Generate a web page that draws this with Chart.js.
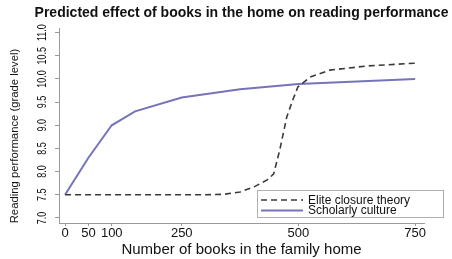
<!DOCTYPE html>
<html>
<head>
<meta charset="utf-8">
<script src="https://cdn.jsdelivr.net/npm/chart.js@4"></script>
<style>
  html, body { margin: 0; padding: 0; background: #fff; }
  #wrap { width: 452px; height: 259px; }
</style>
</head>
<body>
<div id="wrap"><canvas id="booksChart"></canvas></div>
<script>
const titleText = 'Predicted effect of books in the home on reading performance';
const xTitle = 'Number of books in the family home';
const yTitle = 'Reading performance (grade level)';

const xTicks = [0, 50, 100, 250, 500, 750];
const yTicks = [7.0, 7.5, 8.0, 8.5, 9.0, 9.5, 10.0, 10.5, 11.0];

const eliteBooks = [0, 100, 200, 300, 340, 375, 405, 433, 447, 460, 475, 488, 499, 525, 567, 647, 750];
const eliteScore = [7.5, 7.5, 7.5, 7.5, 7.51, 7.56, 7.67, 7.82, 7.95, 8.47, 9.18, 9.55, 9.83, 10.04, 10.19, 10.28, 10.34];

const scholarlyBooks = [0, 50, 100, 150, 250, 375, 500, 750];
const scholarlyScore = [7.5, 8.3, 9.0, 9.3, 9.6, 9.78, 9.89, 10.0];

const axisColor = '#9a9a9a';
const font = 'Liberation Sans, Arial, sans-serif';

function toPoints(xs, ys) {
  return xs.map((x, i) => ({ x: x, y: ys[i] }));
}

// title, y title, squeezed y tick labels and the boxed legend are drawn by hand
const extras = {
  id: 'extras',
  afterDraw(chart) {
    const ctx = chart.ctx;
    const yScale = chart.scales.y;
    ctx.save();
    ctx.fillStyle = '#111';
    ctx.textAlign = 'center';
    ctx.textBaseline = 'middle';
    ctx.font = 'bold 14px ' + font;
    ctx.fillText(titleText, 241.5, 13);

    ctx.save();
    ctx.translate(15, 136);
    ctx.rotate(-Math.PI / 2);
    ctx.font = '11.3px ' + font;
    ctx.fillText(yTitle, 0, 0);
    ctx.restore();

    // stata prints these rotated and narrow
    ctx.font = '12px ' + font;
    yTicks.forEach(v => {
      ctx.save();
      ctx.translate(43, yScale.getPixelForValue(v));
      ctx.rotate(-Math.PI / 2);
      ctx.scale(0.75, 1);
      ctx.fillText(v.toFixed(1), 0, 0);
      ctx.restore();
    });

    const left = 257, top = 190, w = 186, h = 27;
    ctx.fillStyle = '#fff';
    ctx.fillRect(left, top, w, h);
    ctx.strokeStyle = '#b0b0b0';
    ctx.lineWidth = 1;
    ctx.strokeRect(left + 0.5, top + 0.5, w, h);
    ctx.font = '12px ' + font;
    ctx.textAlign = 'left';
    chart.data.datasets.forEach((ds, i) => {
      const y = top + 10 + i * 10.5;
      ctx.beginPath();
      ctx.strokeStyle = ds.borderColor;
      ctx.lineWidth = ds.borderWidth;
      ctx.setLineDash(ds.borderDash || []);
      ctx.moveTo(261, y);
      ctx.lineTo(303, y);
      ctx.stroke();
      ctx.setLineDash([]);
      ctx.fillStyle = '#111';
      ctx.fillText(ds.label, 308, y + 0.5);
    });
    ctx.restore();
  }
};

new Chart(document.getElementById('booksChart'), {
  type: 'line',
  data: {
    datasets: [{
      label: 'Elite closure theory',
      data: toPoints(eliteBooks, eliteScore),
      borderColor: '#3a3a3a',
      borderWidth: 1.6,
      borderDash: [6, 4],
      pointRadius: 0,
      tension: 0
    }, {
      label: 'Scholarly culture',
      data: toPoints(scholarlyBooks, scholarlyScore),
      borderColor: '#7474bb',
      borderWidth: 2,
      pointRadius: 0,
      tension: 0
    }]
  },
  options: {
    responsive: true,
    maintainAspectRatio: false,
    animation: false,
    layout: { padding: { left: 0, right: 28, top: 28, bottom: 0 } },
    plugins: {
      legend: { display: false },
      tooltip: { enabled: false },
      title: { display: false }
    },
    scales: {
      x: {
        type: 'linear',
        min: -13,
        max: 769,
        afterBuildTicks: s => { s.ticks = xTicks.map(v => ({ value: v })); },
        afterFit: s => { s.height = 36; },
        grid: { display: true, drawOnChartArea: false, drawTicks: true, tickLength: 3, tickColor: axisColor },
        border: { display: true, color: axisColor },
        ticks: { color: '#111', font: { family: font, size: 13 }, padding: 0, maxRotation: 0, autoSkip: false },
        title: { display: true, text: xTitle, color: '#111', font: { family: font, size: 15 }, padding: { top: 0, bottom: 0 } }
      },
      y: {
        min: 6.89,
        max: 11.1,
        afterBuildTicks: s => { s.ticks = yTicks.map(v => ({ value: v })); },
        afterFit: s => { s.width = 59; },
        grid: { display: true, drawOnChartArea: false, drawTicks: true, tickLength: 4, tickColor: axisColor },
        border: { display: true, color: axisColor },
        ticks: { display: false },
        title: { display: false }
      }
    }
  },
  plugins: [extras]
});
</script>
</body>
</html>
